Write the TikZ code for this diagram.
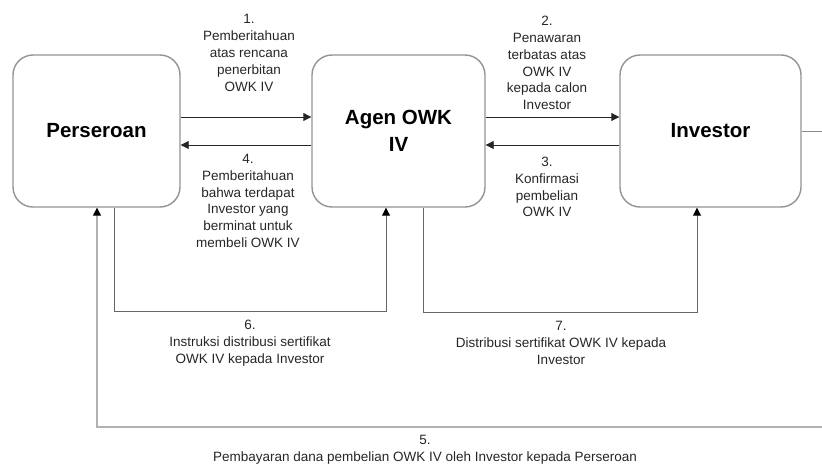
\documentclass[tikz,border=0pt]{standalone}
\usepackage{fontspec}
\setmainfont{Liberation Sans}
\usetikzlibrary{arrows.meta}
\tikzset{
  box/.style={draw=black!42, line width=1.4pt, rounded corners=20pt, minimum width=167pt, minimum height=152pt, inner sep=0pt, font=\fontsize{20.5}{27}\selectfont\bfseries, align=center},
  lbl/.style={font=\fontsize{13.5}{16.8}\selectfont, align=center, inner sep=0pt, text=black!85},
  arr/.style={draw=black!85, line width=0.9pt, -{Triangle[length=8pt,width=8pt]}},
  flow/.style={draw=black!60, line width=0.9pt, -{Triangle[length=8pt,width=8pt,fill=black,color=black]}},
  payline/.style={draw=black!30, line width=1.2pt, -{Triangle[length=8pt,width=8pt,fill=black,color=black]}},
}
\begin{document}
\begin{tikzpicture}[x=1pt,y=-1pt]
\useasboundingbox (0,0) rectangle (822,465);
% boxes
\node[box] (P) at (96.5,131) {Perseroan};
\node[box, minimum width=173pt] (A) at (398.5,131) {Agen OWK\\IV};
\node[box, minimum width=181pt] (I) at (710.5,131) {Investor};
% coordinates for bends
\coordinate (e1) at (830,131);
\coordinate (e2) at (830,427);
\coordinate (b5) at (97,427);
\coordinate (b6a) at (114,311);
\coordinate (b6b) at (386,311);
\coordinate (b7a) at (423,312);
\coordinate (b7b) at (697,312);
% horizontal arrows
\draw[arr] (P.east |- 0,117) -- (A.west |- 0,117);
\draw[arr] (A.west |- 0,145) -- (P.east |- 0,145);
\draw[arr] (A.east |- 0,117) -- (I.west |- 0,117);
\draw[arr] (I.west |- 0,145) -- (A.east |- 0,145);
% 6 and 7
\draw[flow] (P.south -| b6a) -- (b6a) -- (b6b) -- (A.south -| b6b);
\draw[flow] (A.south -| b7a) -- (b7a) -- (b7b) -- (I.south -| b7b);
% 5
\draw[draw=black!45, line width=0.9pt] (I.east |- e1) -- (e1);
\draw[payline] (e1) -- (e2) -- (b5) -- (P.south -| b5);
% labels
\node[lbl] (l1) at (249,53) {1.\\Pemberitahuan\\atas rencana\\penerbitan\\OWK IV};
\node[lbl] (l2) at (547,63) {2.\\Penawaran\\terbatas atas\\OWK IV\\kepada calon\\Investor};
\node[lbl] (l4) at (248,201) {4.\\Pemberitahuan\\bahwa terdapat\\Investor yang\\berminat untuk\\membeli OWK IV};
\node[lbl] (l3) at (547,187) {3.\\Konfirmasi\\pembelian\\OWK IV};
\node[lbl] (l6) at (250,343) {6.\\Instruksi distribusi sertifikat\\OWK IV kepada Investor};
\node[lbl] (l7) at (561,343) {7.\\Distribusi sertifikat OWK IV kepada\\Investor};
\node[lbl] (l5) at (425,449.5) {5.\\Pembayaran dana pembelian OWK IV oleh Investor kepada Perseroan};
\end{tikzpicture}
\end{document}
